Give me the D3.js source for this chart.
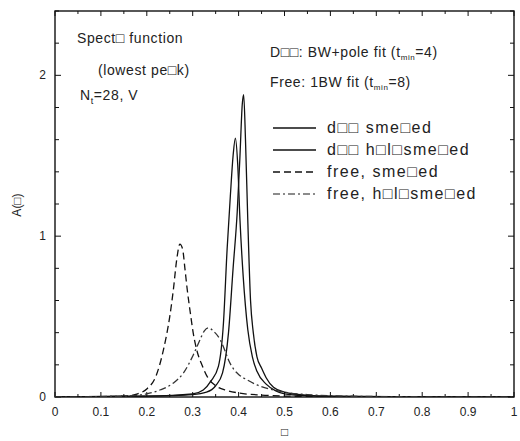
<!DOCTYPE html>
<html><head><meta charset="utf-8">
<script src="https://cdn.jsdelivr.net/npm/d3@7"></script>
<style>
body{margin:0;background:#fff;}
text{font-family:"Liberation Sans",Arial,sans-serif;fill:#222;}
</style></head>
<body><svg id="c" width="520" height="441"></svg>
<script>
// ---- data ----
const xTicks = [0,0.1,0.2,0.3,0.4,0.5,0.6,0.7,0.8,0.9,1];
const xTickLabels = ["0","0.1","0.2","0.3","0.4","0.5","0.6","0.7","0.8","0.9","1"];
const yTicks = [0,1,2];
const yTickLabels = ["0","1","2"];

const dqqSmearedW = [0,0.2,0.3,0.323,0.34,0.356,0.367,0.375,0.382,0.388,0.393,0.398,0.403,0.41,0.42,0.43,0.44,0.46,0.48,0.5,0.55,0.6,0.8,1];
const dqqSmearedA = [0,0.005,0.02,0.044,0.1,0.19,0.46,0.92,1.25,1.5,1.61,1.45,1.1,0.75,0.42,0.25,0.16,0.08,0.04,0.02,0.008,0.004,0.001,0];

const dqqHalfW = [0,0.2,0.3,0.33,0.35,0.365,0.378,0.388,0.397,0.403,0.408,0.411,0.415,0.42,0.426,0.432,0.44,0.45,0.46,0.476,0.5,0.55,0.6,0.8,1];
const dqqHalfA = [0,0.005,0.015,0.03,0.07,0.15,0.4,0.8,1.15,1.5,1.82,1.88,1.6,1.1,0.6,0.4,0.25,0.18,0.12,0.06,0.03,0.01,0.005,0.001,0];

const freeSmearedW = [0,0.15,0.18,0.2,0.22,0.236,0.25,0.258,0.265,0.272,0.278,0.283,0.288,0.295,0.301,0.31,0.32,0.332,0.35,0.375,0.4,0.45,0.5,0.6,1];
const freeSmearedA = [0,0.005,0.02,0.05,0.13,0.29,0.5,0.67,0.85,0.95,0.92,0.8,0.67,0.52,0.4,0.28,0.2,0.125,0.07,0.04,0.025,0.012,0.006,0.002,0];

const freeHalfW = [0,0.15,0.2,0.23,0.258,0.28,0.301,0.315,0.325,0.334,0.345,0.36,0.37,0.378,0.39,0.4,0.419,0.44,0.476,0.5,0.55,0.6,0.7,1];
const freeHalfA = [0,0.005,0.02,0.045,0.087,0.15,0.26,0.35,0.41,0.43,0.41,0.355,0.29,0.23,0.17,0.14,0.106,0.075,0.044,0.03,0.015,0.008,0.003,0];

const seriesNames = ["d\u25A1\u25A1 sme\u25A1ed","d\u25A1\u25A1 h\u25A1l\u25A1sme\u25A1ed","free, sme\u25A1ed","free, h\u25A1l\u25A1sme\u25A1ed"];
const seriesDash = ["none","none","7,4","7,3,2,3"];

// ---- layout ----
const L=55, R=514, T=11, B=397;
const svg = d3.select("#c");
const x = d3.scaleLinear().domain([0,1]).range([L,R]);
const y = d3.scaleLinear().domain([0,2.4]).range([B,T]);

// frame
svg.append("rect").attr("x",L).attr("y",T).attr("width",R-L).attr("height",B-T)
  .attr("fill","none").attr("stroke","#111").attr("stroke-width",1.4);

// ticks (inward, mirrored)
const xMinor = d3.range(0,1.0001,0.05);
const yMinor = d3.range(0,2.4001,0.2);
const tk = svg.append("g").attr("stroke","#111").attr("stroke-width",1);
xMinor.forEach((v,i)=>{
  const len = (i%2===0)?5:3;
  tk.append("line").attr("x1",x(v)).attr("x2",x(v)).attr("y1",B).attr("y2",B-len);
  tk.append("line").attr("x1",x(v)).attr("x2",x(v)).attr("y1",T).attr("y2",T+len);
});
yMinor.forEach(v=>{
  const len = (Math.abs(v-Math.round(v))<1e-6)?6:4;
  tk.append("line").attr("x1",L).attr("x2",L+len).attr("y1",y(v)).attr("y2",y(v));
  tk.append("line").attr("x1",R).attr("x2",R-len).attr("y1",y(v)).attr("y2",y(v));
});

// tick labels
svg.append("g").selectAll("text").data(xTicks).join("text")
  .attr("x",d=>x(d)).attr("y",B+19).attr("text-anchor","middle")
  .attr("font-size",12).text((d,i)=>xTickLabels[i]);
svg.append("g").selectAll("text").data(yTicks).join("text")
  .attr("x",L-9).attr("y",d=>y(d)+4).attr("text-anchor","end")
  .attr("font-size",12).text((d,i)=>yTickLabels[i]);

// axis titles
svg.append("text").attr("x",(L+R)/2).attr("y",436).attr("text-anchor","middle")
  .attr("font-size",12).text("\u25A1");
svg.append("text").attr("transform","translate(21,205) rotate(-90)")
  .attr("text-anchor","middle").attr("font-size",12).text("A(\u25A1)");

// curves
const curves = [[dqqSmearedW,dqqSmearedA],[dqqHalfW,dqqHalfA],[freeSmearedW,freeSmearedA],[freeHalfW,freeHalfA]];
const line = d3.line().x(d=>x(d[0])).y(d=>y(d[1])).curve(d3.curveMonotoneX);
svg.append("clipPath").attr("id","pc").append("rect")
  .attr("x",L).attr("y",T).attr("width",R-L).attr("height",B-T);
curves.forEach((c,i)=>{
  const pts = c[0].map((w,j)=>[w,c[1][j]]);
  svg.append("path").attr("d",line(pts)).attr("fill","none")
    .attr("stroke", i===3?"#333":"#111").attr("stroke-width",1.3)
    .attr("stroke-dasharray",seriesDash[i]).attr("clip-path","url(#pc)");
});

// annotations
const ann = svg.append("g").attr("font-size",14).attr("letter-spacing",0.6);
ann.append("text").attr("x",77).attr("y",43).text("Spect\u25A1 function");
ann.append("text").attr("x",98).attr("y",75).text("(lowest pe\u25A1k)");
const nt = ann.append("text").attr("x",80).attr("y",100);
nt.append("tspan").text("N");
nt.append("tspan").attr("font-size",9).attr("dy",4).text("t");
nt.append("tspan").attr("dy",-4).text("=28, V");

const a1 = ann.append("text").attr("x",270).attr("y",57);
a1.append("tspan").text("D\u25A1\u25A1: BW+pole fit (t");
a1.append("tspan").attr("font-size",8).attr("dy",3).text("min");
a1.append("tspan").attr("dy",-3).text("=4)");
const a2 = ann.append("text").attr("x",270).attr("y",87);
a2.append("tspan").text("Free: 1BW fit (t");
a2.append("tspan").attr("font-size",8).attr("dy",3).text("min");
a2.append("tspan").attr("dy",-3).text("=8)");

// legend
const leg = svg.append("g");
seriesNames.forEach((n,i)=>{
  const yy = 128 + i*22;
  leg.append("line").attr("x1",273).attr("x2",316).attr("y1",yy).attr("y2",yy)
    .attr("stroke",i===3?"#666":"#111").attr("stroke-width",1.3).attr("stroke-dasharray",seriesDash[i]);
  leg.append("text").attr("x",327).attr("y",yy+5).attr("font-size",16)
    .attr("letter-spacing",1.5).text(n);
});
</script></body></html>
